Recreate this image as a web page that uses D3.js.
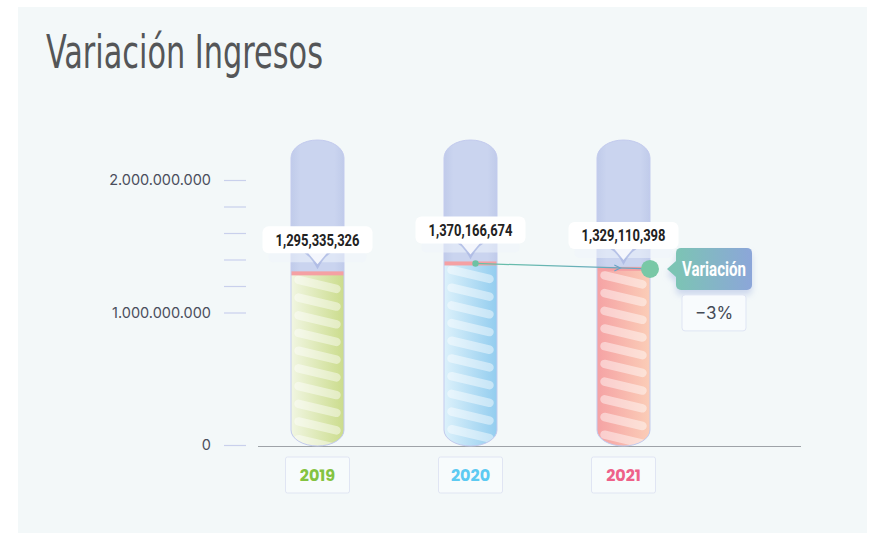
<!DOCTYPE html>
<html>
<head>
<meta charset="utf-8">
<script src="https://cdn.jsdelivr.net/npm/d3@7"></script>
<style>
  html, body { margin: 0; padding: 0; background: #ffffff; }
  svg { display: block; }
</style>
</head>
<body>
<svg id="chart" width="870" height="533"></svg>
<script>
// ---- data ----
const title = "Variación Ingresos";
const years = ["2019", "2020", "2021"];
const ingresos = [1295335326, 1370166674, 1329110398];
const yearColors = ["#84c341", "#5ccaf2", "#ee6189"];
const fillLeft = ["#f1f6e2", "#dcf1fb", "#f5a2a4"];
const fillRight = ["#cbdc8c", "#93cdef", "#fbcdb7"];
const tickValues = [0, 1000000000, 1200000000, 1400000000, 1600000000, 1800000000, 2000000000];
const labeledTicks = [0, 1000000000, 2000000000];
const variacionLabel = "Variación";

// ---- layout ----
const svg = d3.select("#chart");
const condensed = "'Liberation Sans Narrow', 'Roboto', sans-serif";

const x = d3.scalePoint().domain(years).range([317.5, 623.5]);
const y = d3.scaleLinear().domain([0, 2000000000]).range([445, 180]);
const tubeW = 53, tubeTop = 140, tubeBottom = 446;

const defs = svg.append("defs");

// panel background
svg.append("rect").attr("x", 18).attr("y", 7).attr("width", 849).attr("height", 526).attr("fill", "#f3f8f9");

// title
svg.append("text")
  .attr("x", 46).attr("y", 68)
  .attr("font-family", "'Liberation Sans Narrow', 'DejaVu Sans Condensed', 'Roboto Condensed', sans-serif")
  .attr("font-size", 46)
  .attr("fill", "#545658")
  .attr("textLength", 277)
  .attr("lengthAdjust", "spacingAndGlyphs")
  .text(title);

// y axis
const locale = d3.formatLocale({ decimal: ",", thousands: ".", grouping: [3], currency: ["", ""] });
const fmtAxis = locale.format(",");
const yAxis = d3.axisLeft(y)
  .tickValues(tickValues)
  .tickSize(22)
  .tickPadding(13)
  .tickFormat(d => labeledTicks.includes(d) ? fmtAxis(d) : "");
const gy = svg.append("g").attr("transform", "translate(246,0)").call(yAxis);
gy.select(".domain").remove();
gy.selectAll(".tick line").attr("stroke", "#c9d0ec").attr("stroke-width", 1.2);
gy.selectAll(".tick text")
  .attr("font-family", "Inter, 'Open Sans', sans-serif")
  .attr("font-size", 14.5)
  .attr("fill", "#4a4e5c");

// baseline
svg.append("line").attr("x1", 258).attr("x2", 801).attr("y1", 446.5).attr("y2", 446.5)
  .attr("stroke", "#9ea3a8").attr("stroke-width", 1.2);

// gradients
const tubeGrad = defs.append("linearGradient").attr("id", "tubeGrad").attr("x1", "0").attr("x2", "1");
[["0%", "#c0cbea"], ["18%", "#cad4ef"], ["82%", "#cad4ef"], ["100%", "#c0cbea"]]
  .forEach(([o, c]) => tubeGrad.append("stop").attr("offset", o).attr("stop-color", c));

years.forEach((yr, i) => {
  const g = defs.append("linearGradient").attr("id", "fill" + i).attr("x1", "0").attr("x2", "1");
  g.append("stop").attr("offset", "0%").attr("stop-color", fillLeft[i]);
  g.append("stop").attr("offset", "100%").attr("stop-color", fillRight[i]);
});

const badgeGrad = defs.append("linearGradient").attr("id", "badgeGrad").attr("x1", "0").attr("x2", "1");
badgeGrad.append("stop").attr("offset", "0%").attr("stop-color", "#7cc4b4");
badgeGrad.append("stop").attr("offset", "100%").attr("stop-color", "#8ca6d9");

const lineGrad = defs.append("linearGradient").attr("id", "lineGrad").attr("x1", "0").attr("x2", "1");
lineGrad.append("stop").attr("offset", "0%").attr("stop-color", "#66c2a5");
lineGrad.append("stop").attr("offset", "100%").attr("stop-color", "#6aa3c6");

const shadow = defs.append("filter").attr("id", "shadow").attr("x", "-30%").attr("y", "-30%").attr("width", "160%").attr("height", "180%");
shadow.append("feDropShadow").attr("dx", 0).attr("dy", 5).attr("stdDeviation", 3)
  .attr("flood-color", "#9fb0de").attr("flood-opacity", 0.45);

function tubePath(cx) {
  const x0 = cx - tubeW / 2, x1 = cx + tubeW / 2, r = tubeW / 2;
  const ryT = 18, ryB = 16;
  return `M${x0},${tubeTop + ryT} A${r},${ryT} 0 0 1 ${x1},${tubeTop + ryT} L${x1},${tubeBottom - ryB} A${r},${ryB} 0 0 1 ${x0},${tubeBottom - ryB} Z`;
}

const fmtVal = d3.format(",");

years.forEach((yr, i) => {
  const cx = x(yr);
  const v = ingresos[i];
  const yv = y(v);
  const clipId = "clip" + i;
  defs.append("clipPath").attr("id", clipId).append("path").attr("d", tubePath(cx));

  const g = svg.append("g");
  // tube background
  g.append("path").attr("d", tubePath(cx)).attr("fill", "url(#tubeGrad)");
  const inner = g.append("g").attr("clip-path", `url(#${clipId})`);
  // filled part
  inner.append("rect")
    .attr("x", cx - tubeW / 2).attr("width", tubeW)
    .attr("y", yv).attr("height", tubeBottom - yv)
    .attr("fill", `url(#fill${i})`);
  // stripes
  const stripes = d3.range(yv + 11, tubeBottom - 2, 17.7);
  inner.selectAll("line.stripe").data(stripes).join("line")
    .attr("class", "stripe")
    .attr("x1", cx - 19).attr("x2", cx + 19)
    .attr("y1", d => d - 4.5).attr("y2", d => d + 4.5)
    .attr("stroke", "#ffffff").attr("stroke-opacity", 0.45)
    .attr("stroke-width", 8.5).attr("stroke-linecap", "round");
  // red level line
  inner.append("rect")
    .attr("x", cx - tubeW / 2).attr("width", tubeW)
    .attr("y", yv - 2).attr("height", 4)
    .attr("fill", "#f5a0a3");
  // rim
  g.append("path").attr("d", tubePath(cx)).attr("fill", "none")
    .attr("stroke", "#c3cbee").attr("stroke-width", 1);

  // value label
  const lb = svg.append("g");
  const bTop = yv - 47, bH = 27, bW = 110;
  lb.append("rect").attr("x", cx - bW / 2 + 6).attr("y", bTop + bH - 2).attr("width", bW - 12).attr("height", 11)
    .attr("rx", 5).attr("fill", "#eef4fb").attr("fill-opacity", 0.55);
  lb.append("path")
    .attr("d", `M${cx - 13},${bTop + bH} Q${cx - 6},${bTop + bH + 4} ${cx},${yv - 4} Q${cx + 6},${bTop + bH + 4} ${cx + 13},${bTop + bH} Z`)
    .attr("fill", "#a8b6e2").attr("fill-opacity", 0.75);
  lb.append("path")
    .attr("d", `M${cx - 10},${bTop + bH - 1} L${cx},${yv - 9} L${cx + 10},${bTop + bH - 1} Z`)
    .attr("fill", "#ffffff").attr("fill-opacity", 0.85);
  lb.append("rect").attr("x", cx - bW / 2).attr("y", bTop).attr("width", bW).attr("height", bH)
    .attr("rx", 6).attr("fill", "#ffffff");
  lb.append("text").attr("x", cx).attr("y", bTop + 19.5)
    .attr("text-anchor", "middle")
    .attr("font-family", condensed)
    .attr("font-weight", "bold").attr("font-size", 16.5)
    .attr("fill", "#222222")
    .attr("textLength", 84).attr("lengthAdjust", "spacingAndGlyphs")
    .text(fmtVal(v));

  // year label
  svg.append("rect").attr("x", cx - 32).attr("y", 457).attr("width", 64).attr("height", 36)
    .attr("rx", 2).attr("fill", "#f7fbfc").attr("stroke", "#e0e5f3").attr("stroke-width", 1);
  svg.append("text").attr("x", cx).attr("y", 481)
    .attr("text-anchor", "middle")
    .attr("font-family", "Poppins, Inter, 'Open Sans', sans-serif")
    .attr("font-weight", 700).attr("font-size", 16)
    .attr("fill", yearColors[i])
    .text(yr);
});

// variation line between last two years
const i1 = years.length - 2, i2 = years.length - 1;
const p1 = [x(years[i1]) + 5, y(ingresos[i1])];
const p2 = [x(years[i2]) + tubeW / 2, y(ingresos[i2])];
svg.append("line").attr("x1", p1[0]).attr("y1", p1[1]).attr("x2", p2[0]).attr("y2", p2[1])
  .attr("stroke", "url(#lineGrad)").attr("stroke-width", 1.3);
svg.append("circle").attr("cx", p1[0]).attr("cy", p1[1]).attr("r", 3.2).attr("fill", "#6cc2a3");
// small arrowhead
const t = 0.83;
const ax = p1[0] + (p2[0] - p1[0]) * t, ay = p1[1] + (p2[1] - p1[1]) * t;
svg.append("path").attr("d", `M${ax - 6},${ay - 3} L${ax},${ay} L${ax - 6},${ay + 3}`)
  .attr("fill", "none").attr("stroke", "#6aa3c6").attr("stroke-width", 1.2);
svg.append("circle").attr("cx", p2[0]).attr("cy", p2[1]).attr("r", 9).attr("fill", "#79c8a6");

// badge
const bx = p2[0] + 26, by = p2[1] - 21;
const badge = svg.append("g").attr("filter", "url(#shadow)");
badge.append("path")
  .attr("d", `M${bx},${by + 13} L${p2[0] + 17},${p2[1]} L${bx},${by + 29} Z`)
  .attr("fill", "#7cc4b4");
badge.append("rect").attr("x", bx).attr("y", by).attr("width", 76).attr("height", 42)
  .attr("rx", 5).attr("fill", "url(#badgeGrad)");
svg.append("text").attr("x", bx + 38).attr("y", by + 28)
  .attr("text-anchor", "middle")
  .attr("font-family", condensed)
  .attr("font-weight", "bold").attr("font-size", 19.5)
  .attr("fill", "#ffffff")
  .attr("textLength", 64).attr("lengthAdjust", "spacingAndGlyphs")
  .text(variacionLabel);

// percent box
const pct = (ingresos[i2] - ingresos[i1]) / ingresos[i1];
svg.append("rect").attr("x", bx + 6).attr("y", by + 47).attr("width", 64).attr("height", 36)
  .attr("rx", 3).attr("fill", "#f8fbfd").attr("stroke", "#dfe5f4");
svg.append("text").attr("x", bx + 38).attr("y", by + 71)
  .attr("text-anchor", "middle")
  .attr("font-family", "Inter, 'Open Sans', sans-serif")
  .attr("font-size", 17).attr("fill", "#444a55")
  .text(d3.format(".0%")(pct));
</script>
</body>
</html>
